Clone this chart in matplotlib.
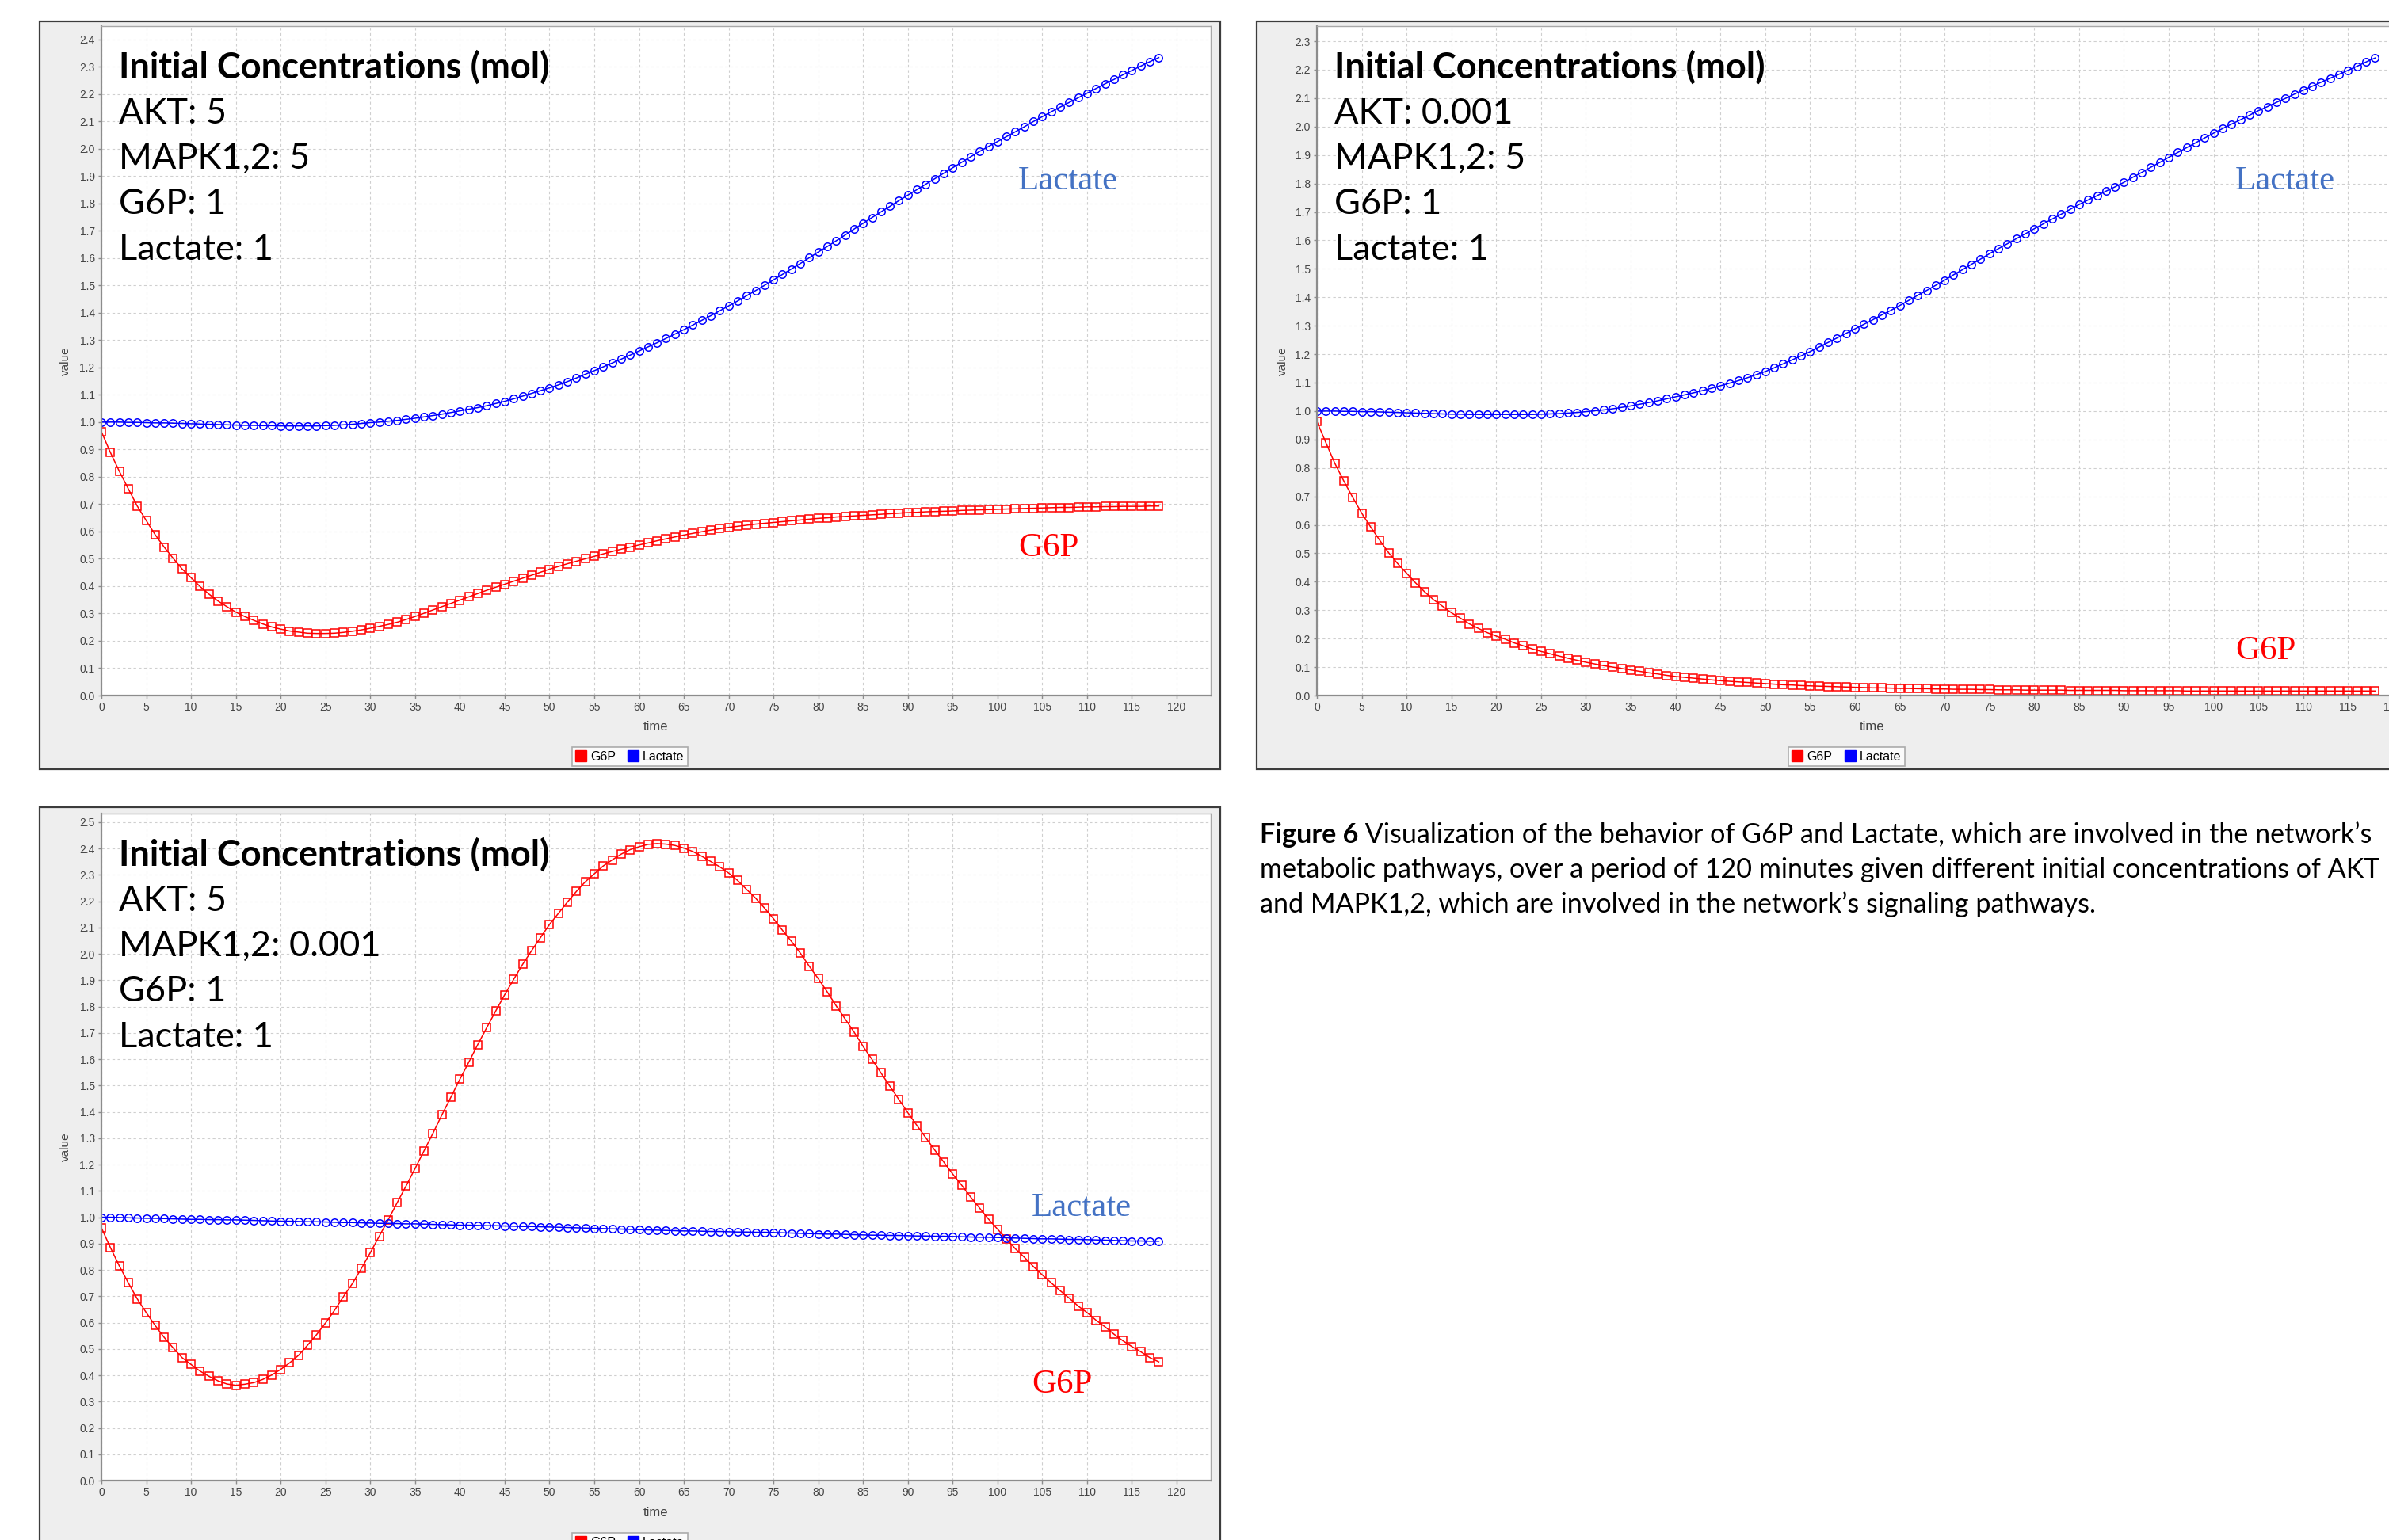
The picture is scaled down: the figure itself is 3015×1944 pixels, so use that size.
import matplotlib
matplotlib.use('Agg')
import matplotlib.pyplot as plt
from matplotlib.patches import Rectangle
from matplotlib.lines import Line2D
from matplotlib import font_manager

W, H = 3015, 1944

time = list(range(119))

# AKT 5, MAPK1,2 5
g6p_1 = [0.965, 0.889, 0.820, 0.756, 0.693, 0.640, 0.588, 0.543, 0.502, 0.463,
         0.431, 0.399, 0.371, 0.346, 0.325, 0.305, 0.289, 0.275, 0.262, 0.251,
         0.243, 0.236, 0.232, 0.228, 0.227, 0.227, 0.228, 0.231, 0.235, 0.240,
         0.246, 0.253, 0.260, 0.268, 0.278, 0.289, 0.301, 0.313, 0.325, 0.337,
         0.349, 0.361, 0.373, 0.385, 0.396, 0.407, 0.418, 0.429, 0.440, 0.451,
         0.462, 0.472, 0.482, 0.491, 0.500, 0.509, 0.518, 0.527, 0.535, 0.543,
         0.551, 0.558, 0.566, 0.573, 0.580, 0.587, 0.593, 0.599, 0.605, 0.610,
         0.615, 0.619, 0.623, 0.627, 0.630, 0.633, 0.636, 0.639, 0.642, 0.645,
         0.648, 0.650, 0.653, 0.655, 0.657, 0.659, 0.661, 0.663, 0.665, 0.667,
         0.669, 0.670, 0.672, 0.673, 0.674, 0.675, 0.677, 0.678, 0.679, 0.680,
         0.681, 0.682, 0.683, 0.684, 0.685, 0.686, 0.687, 0.688, 0.688, 0.689,
         0.690, 0.690, 0.691, 0.691, 0.692, 0.692, 0.692, 0.693, 0.693]
lac_1 = [1.000, 1.000, 1.000, 0.999, 0.999, 0.998, 0.997, 0.997, 0.996, 0.995,
         0.994, 0.993, 0.992, 0.991, 0.990, 0.989, 0.988, 0.988, 0.987, 0.987,
         0.986, 0.986, 0.986, 0.986, 0.986, 0.987, 0.988, 0.990, 0.992, 0.995,
         0.998, 1.000, 1.003, 1.006, 1.010, 1.014, 1.019, 1.024, 1.029, 1.035,
         1.041, 1.047, 1.053, 1.060, 1.068, 1.076, 1.085, 1.095, 1.105, 1.115,
         1.125, 1.136, 1.148, 1.161, 1.175, 1.188, 1.202, 1.216, 1.230, 1.245,
         1.260, 1.275, 1.290, 1.306, 1.322, 1.338, 1.355, 1.372, 1.389, 1.407,
         1.425, 1.443, 1.462, 1.481, 1.500, 1.520, 1.540, 1.560, 1.580, 1.601,
         1.622, 1.642, 1.663, 1.684, 1.706, 1.727, 1.748, 1.769, 1.789, 1.810,
         1.830, 1.850, 1.870, 1.890, 1.910, 1.930, 1.950, 1.970, 1.990, 2.008,
         2.026, 2.044, 2.062, 2.080, 2.099, 2.117, 2.135, 2.152, 2.169, 2.186,
         2.203, 2.220, 2.237, 2.253, 2.270, 2.286, 2.302, 2.318, 2.333]

# AKT 0.001, MAPK1,2 5
g6p_2 = [0.963, 0.889, 0.816, 0.754, 0.696, 0.641, 0.592, 0.546, 0.502, 0.464,
         0.430, 0.396, 0.365, 0.337, 0.314, 0.291, 0.272, 0.252, 0.236, 0.221,
         0.209, 0.198, 0.185, 0.175, 0.164, 0.155, 0.147, 0.139, 0.131, 0.124,
         0.117, 0.111, 0.105, 0.100, 0.095, 0.090, 0.085, 0.080, 0.076, 0.071,
         0.067, 0.064, 0.061, 0.058, 0.055, 0.052, 0.050, 0.048, 0.046, 0.044,
         0.042, 0.040, 0.038, 0.037, 0.035, 0.034, 0.033, 0.032, 0.031, 0.030,
         0.029, 0.028, 0.027, 0.027, 0.026, 0.025, 0.025, 0.024, 0.024, 0.023,
         0.023, 0.022, 0.022, 0.022, 0.021, 0.021, 0.020, 0.020, 0.020, 0.019,
         0.019, 0.019, 0.019, 0.019, 0.018, 0.018, 0.018, 0.018, 0.018, 0.018,
         0.017, 0.017, 0.017, 0.017, 0.017, 0.017, 0.017, 0.016, 0.016, 0.016,
         0.016, 0.016, 0.016, 0.016, 0.016, 0.016, 0.016, 0.016, 0.016, 0.016,
         0.016, 0.016, 0.016, 0.016, 0.016, 0.016, 0.016, 0.016, 0.016]
lac_2 = [1.000, 1.000, 1.000, 0.999, 0.999, 0.998, 0.998, 0.997, 0.996, 0.995,
         0.994, 0.993, 0.992, 0.991, 0.990, 0.989, 0.989, 0.988, 0.988, 0.988,
         0.988, 0.988, 0.988, 0.988, 0.988, 0.989, 0.990, 0.991, 0.993, 0.995,
         0.998, 1.001, 1.004, 1.008, 1.013, 1.018, 1.024, 1.030, 1.036, 1.043,
         1.050, 1.057, 1.064, 1.072, 1.080, 1.089, 1.098, 1.107, 1.117, 1.128,
         1.139, 1.152, 1.166, 1.180, 1.194, 1.209, 1.225, 1.241, 1.257, 1.273,
         1.289, 1.305, 1.321, 1.338, 1.354, 1.371, 1.389, 1.407, 1.424, 1.442,
         1.460, 1.479, 1.497, 1.516, 1.534, 1.553, 1.571, 1.588, 1.606, 1.623,
         1.641, 1.658, 1.675, 1.692, 1.709, 1.726, 1.742, 1.757, 1.773, 1.788,
         1.804, 1.822, 1.839, 1.857, 1.874, 1.892, 1.909, 1.926, 1.943, 1.960,
         1.977, 1.993, 2.009, 2.024, 2.040, 2.056, 2.070, 2.085, 2.099, 2.114,
         2.128, 2.142, 2.156, 2.170, 2.184, 2.198, 2.212, 2.227, 2.241]

# AKT 5, MAPK1,2 0.001
g6p_3 = [0.960, 0.885, 0.815, 0.751, 0.690, 0.638, 0.589, 0.544, 0.504, 0.467,
         0.441, 0.416, 0.396, 0.379, 0.367, 0.362, 0.366, 0.372, 0.384, 0.401,
         0.422, 0.447, 0.476, 0.514, 0.554, 0.598, 0.646, 0.698, 0.748, 0.805,
         0.865, 0.928, 0.990, 1.055, 1.119, 1.185, 1.252, 1.319, 1.389, 1.456,
         1.524, 1.589, 1.656, 1.720, 1.783, 1.845, 1.903, 1.960, 2.012, 2.062,
         2.112, 2.154, 2.197, 2.237, 2.274, 2.304, 2.334, 2.357, 2.379, 2.396,
         2.407, 2.416, 2.419, 2.417, 2.412, 2.402, 2.389, 2.371, 2.351, 2.331,
         2.307, 2.279, 2.245, 2.212, 2.174, 2.134, 2.090, 2.048, 2.003, 1.953,
         1.906, 1.856, 1.803, 1.753, 1.703, 1.649, 1.599, 1.548, 1.497, 1.447,
         1.397, 1.349, 1.302, 1.255, 1.210, 1.164, 1.122, 1.077, 1.035, 0.993,
         0.955, 0.918, 0.880, 0.848, 0.813, 0.781, 0.751, 0.721, 0.693, 0.663,
         0.638, 0.609, 0.584, 0.556, 0.531, 0.509, 0.489, 0.467, 0.451]
lac_3 = [1.000, 1.000, 0.999, 0.998, 0.997, 0.996, 0.996, 0.995, 0.994, 0.993,
         0.992, 0.992, 0.991, 0.991, 0.990, 0.990, 0.989, 0.988, 0.987, 0.986,
         0.985, 0.985, 0.984, 0.983, 0.983, 0.982, 0.981, 0.980, 0.980, 0.979,
         0.978, 0.977, 0.977, 0.976, 0.975, 0.975, 0.974, 0.973, 0.972, 0.971,
         0.970, 0.970, 0.969, 0.968, 0.968, 0.967, 0.966, 0.965, 0.965, 0.964,
         0.963, 0.962, 0.961, 0.960, 0.959, 0.958, 0.957, 0.956, 0.955, 0.954,
         0.953, 0.952, 0.951, 0.950, 0.949, 0.948, 0.948, 0.947, 0.946, 0.946,
         0.945, 0.944, 0.944, 0.943, 0.943, 0.942, 0.941, 0.940, 0.939, 0.938,
         0.937, 0.936, 0.936, 0.935, 0.934, 0.933, 0.932, 0.932, 0.931, 0.931,
         0.930, 0.929, 0.929, 0.928, 0.928, 0.927, 0.926, 0.925, 0.924, 0.924,
         0.923, 0.922, 0.921, 0.920, 0.919, 0.918, 0.918, 0.917, 0.916, 0.916,
         0.915, 0.914, 0.913, 0.912, 0.911, 0.910, 0.910, 0.909, 0.909]

conc_1 = ['AKT: 5', 'MAPK1,2: 5', 'G6P: 1', 'Lactate: 1']
conc_2 = ['AKT: 0.001', 'MAPK1,2: 5', 'G6P: 1', 'Lactate: 1']
conc_3 = ['AKT: 5', 'MAPK1,2: 0.001', 'G6P: 1', 'Lactate: 1']

caption_bold = 'Figure 6'
caption_lines = [' Visualization of the behavior of G6P and Lactate, which are involved in the network\u2019s',
                 'metabolic pathways, over a period of 120 minutes given different initial concentrations of AKT',
                 'and MAPK1,2, which are involved in the network\u2019s signaling pathways.']

installed = {f.name for f in font_manager.fontManager.ttflist}
tick_font = 'Liberation Sans Narrow' if 'Liberation Sans Narrow' in installed else 'Liberation Sans'
text_font = 'Lato'
serif_font = 'Liberation Serif'

fig = plt.figure(figsize=(W / 100, H / 100), dpi=100)
fig.patch.set_facecolor('white')


def fx(x):
    return x / W


def fy(y):
    return 1 - y / H


def panel(frame, plot, ymax, ntick, g6p, lac, conc, lac_xy, g6p_xy):
    x0, y0, x1, y1 = frame
    fig.add_artist(Rectangle((fx(x0), fy(y1)), fx(x1 - x0), (y1 - y0) / H,
                             transform=fig.transFigure, facecolor='#EEEEEE',
                             edgecolor='#3C3C3C', lw=1.6, zorder=-5))
    px0, py0, px1, py1 = plot
    ax = fig.add_axes([fx(px0), fy(py1), fx(px1 - px0), (py1 - py0) / H])
    ax.set_facecolor('white')
    ax.plot(time, g6p, color='#FF0000', lw=1.1, marker='s', ms=6.8, mfc='none', mew=1.1)
    ax.plot(time, lac, color='#0000FF', lw=1.1, marker='o', ms=6.8, mfc='none', mew=1.1)
    ax.set_xlim(0, 123.8)
    ax.set_ylim(0, ymax)
    ax.set_xticks(range(0, 121, 5))
    yt = [i / 10 for i in range(ntick)]
    ax.set_yticks(yt)
    ax.set_yticklabels([f'{v:.1f}' for v in yt])
    ax.grid(True, color='#CFCFCF', ls=(0, (3, 3)), lw=0.8)
    ax.set_axisbelow(True)
    for s in ['left', 'bottom']:
        ax.spines[s].set_color('#8C8C8C')
        ax.spines[s].set_linewidth(1.6)
    for s in ['top', 'right']:
        ax.spines[s].set_color('#A8A8A8')
        ax.spines[s].set_linewidth(1.0)
    ax.tick_params(direction='out', length=3, width=1, color='#8C8C8C', pad=3,
                   labelsize=10, labelcolor='#444444')
    for lab in ax.get_xticklabels() + ax.get_yticklabels():
        lab.set_family(tick_font)
    ax.set_xlabel('time', fontsize=12, color='#444444', family=tick_font)
    ax.set_ylabel('value', fontsize=11, color='#444444', family=tick_font)
    ax.xaxis.set_label_coords(0.5, (py1 - (y0 + 890)) / (py1 - py0))
    ax.xaxis.label.set_va('center')
    ax.yaxis.set_label_coords((83 + x0 - 50 - px0) / (px1 - px0), 0.5)
    ax.yaxis.label.set_va('center')

    tx = px0 + 22
    fig.text(fx(tx), fy(py0 + 52), 'Initial Concentrations (mol)', fontsize=32.5,
             family=text_font, fontweight='bold', va='center')
    for i, line in enumerate(conc):
        fig.text(fx(tx), fy(py0 + 110 + i * 57.5), line, fontsize=32.5,
                 family=text_font, va='center')
    fig.text(fx(lac_xy[0]), fy(lac_xy[1]), 'Lactate', fontsize=31, family=serif_font,
             color='#4472C4', va='center')
    fig.text(fx(g6p_xy[0]), fy(g6p_xy[1]), 'G6P', fontsize=31, family=serif_font,
             color='#FF0000', va='center')

    handles = [Line2D([], [], ls='none', marker='s', ms=10, color='#FF0000', label='G6P'),
               Line2D([], [], ls='none', marker='s', ms=10, color='#0000FF', label='Lactate')]
    leg = fig.legend(handles=handles, loc='center', ncol=2,
                     bbox_to_anchor=(fx((x0 + x1) / 2), fy(y0 + 928)),
                     prop={'family': tick_font, 'size': 11.5}, frameon=True, fancybox=False,
                     handlelength=0.8, handletextpad=0.35, columnspacing=1.0,
                     borderpad=0.3, borderaxespad=0)
    leg.get_frame().set_edgecolor('#999999')
    leg.get_frame().set_linewidth(1.2)
    return ax


panel((50, 27, 1540, 971), (128, 33, 1528, 878), 2.448, 25, g6p_1, lac_1, conc_1,
      (1285, 229), (1285, 692))
panel((1586, 27, 3075, 971), (1662, 33, 3063, 878), 2.353, 24, g6p_2, lac_2, conc_2,
      (2821, 229), (2821, 822))
panel((50, 1019, 1540, 1963), (128, 1027, 1528, 1869), 2.533, 26, g6p_3, lac_3, conc_3,
      (1302, 1525), (1302, 1748))

# caption
renderer = fig.canvas.get_renderer()
cap_x = 1590
cap_size = 24.6
t = fig.text(fx(cap_x), fy(1054), caption_bold, fontsize=cap_size, family=text_font,
             fontweight='bold', va='center')
bb = t.get_window_extent(renderer)
fig.text(bb.x1 / W, fy(1054), caption_lines[0], fontsize=cap_size, family=text_font, va='center')
fig.text(fx(cap_x), fy(1098), caption_lines[1], fontsize=cap_size, family=text_font, va='center')
fig.text(fx(cap_x), fy(1142), caption_lines[2], fontsize=cap_size, family=text_font, va='center')

fig.savefig('out.png', dpi=100)
